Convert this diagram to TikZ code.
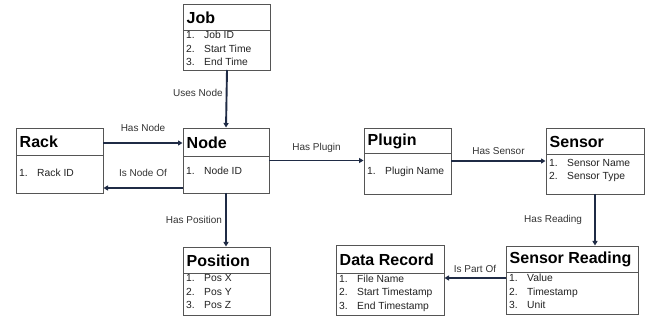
\documentclass[tikz,border=0pt]{standalone}
\usepackage{fontspec}
\setmainfont{Liberation Sans}
\usetikzlibrary{arrows.meta,calc}
\definecolor{arrowc}{HTML}{1F2B45}
\definecolor{boxc}{HTML}{555555}
\definecolor{lblc}{HTML}{333333}
\definecolor{itmc}{HTML}{222222}
\tikzset{
  ebox/.style={draw=boxc, line width=0.8pt, inner sep=0pt, outer sep=0pt, anchor=north west, fill=white},
  divline/.style={draw=boxc, line width=0.8pt},
  ttl/.style={font=\fontsize{16}{18}\selectfont\bfseries, inner sep=0pt, anchor=west, text=black},
  itm/.style={font=\fontsize{10.3}{13.5}\selectfont, inner sep=0pt, anchor=base west, text=itmc},
  lbl/.style={font=\fontsize{10}{12}\selectfont, text=lblc, inner sep=0pt},
  conn/.style={draw=arrowc, line width=1.9pt, -{Triangle[length=4.5pt,width=5pt]}, shorten >=0.5pt}
}
% #1 name, #2 x1, #3 y1, #4 x2, #5 y2, #6 divider y, #7 title, #8 items, #9 first item centre y
\newcommand\entitybox[9]{%
  \node[ebox, minimum width={#4pt-#2pt}, minimum height={#5pt-#3pt}] (#1) at (#2,#3) {};
  \draw[divline] (#2,#6) -- (#4,#6);
  \node[ttl] (#1-t) at (#2+3.5,{(#3+#6)/2+0.5}) {#7};
  \node[itm] (#1-i) at (#2+3,#9+3.5) {\begin{tabular}[t]{@{}p{18pt}@{}l@{}}#8\end{tabular}};
}
\begin{document}
\begin{tikzpicture}[x=1pt,y=-1pt]
\useasboundingbox (0,0) rectangle (645,320);
\entitybox{job}{183}{4}{270}{70}{30}{Job}{1.&Job ID\\2.&Start Time\\3.&End Time}{35.5}
\entitybox{rack}{16}{128}{103}{193}{155}{Rack}{1.&Rack ID}{173}
\entitybox{nd}{183}{128}{269}{193}{156}{Node}{1.&Node ID}{171}
\entitybox{plugin}{364}{128}{451}{194}{153}{Plugin}{1.&Plugin Name}{171}
\entitybox{sensor}{546}{128}{644}{194}{154}{Sensor}{1.&Sensor Name\\2.&Sensor Type}{163}
\entitybox{pos}{183}{247}{270}{315}{273}{Position}{1.&Pos X\\2.&Pos Y\\3.&Pos Z}{278.5}
\entitybox{rec}{336}{245}{444}{315}{273}{Data Record}{1.&File Name\\2.&Start Timestamp\\3.&End Timestamp}{279}
\entitybox{sr}{506}{246}{638}{314}{272}{Sensor Reading}{1.&Value\\2.&Timestamp\\3.&Unit}{278}

\draw[conn] ([xshift=0.5pt]job.south) -- node[lbl, left=3pt, pos=0.4] {Uses Node} (nd.north);
\draw[conn] ([yshift=17.5pt]rack.east) -- node[lbl, above=10pt] {Has Node} ([yshift=17.5pt]rack.east -| nd.west);
\draw[conn] ([yshift=-27.5pt]nd.west) -- node[lbl, above=10pt] {Is Node Of} ([yshift=-27.5pt]nd.west -| rack.east);
\draw[conn] (nd.east) -- node[lbl, above=6.5pt] {Has Plugin} (nd.east -| plugin.west);
\draw[conn] (plugin.east) -- node[lbl, above=5.5pt] {Has Sensor} (sensor.west);
\draw[conn] (nd.south) -- node[lbl, left=3pt] {Has Position} (nd.south |- pos.north);
\draw[conn] (sensor.south) -- node[lbl, left=12pt] {Has Reading} (sensor.south |- sr.north);
\draw[conn] ([yshift=2pt]sr.west) -- node[lbl, above=4pt] {Is Part Of} ([yshift=2pt]sr.west -| rec.east);
\end{tikzpicture}
\end{document}
